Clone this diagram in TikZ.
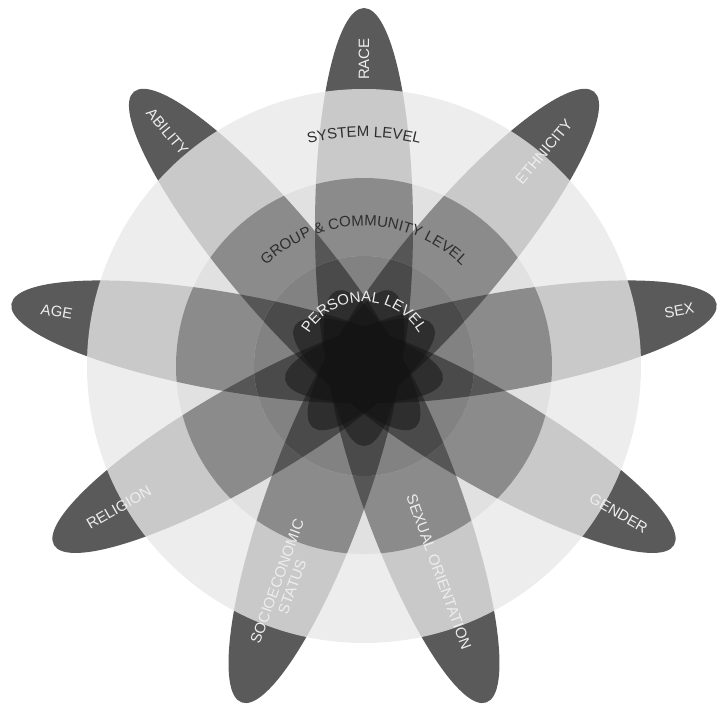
\documentclass[tikz,border=0pt]{standalone}
\usepackage{fontspec}
\setmainfont{Liberation Sans}
\usetikzlibrary{decorations.text}
\definecolor{tipgray}{HTML}{5A5A5A}
\definecolor{sysgray}{HTML}{EDEDED}
\definecolor{grpgray}{HTML}{E1E1E1}
\definecolor{pergray}{HTML}{F2F2F2}
\definecolor{textdark}{HTML}{2E2E2E}
\definecolor{textlight}{HTML}{EEEEEE}
% all nine petals, one fill style
\newcommand{\petalset}[1]{%
  \foreach \ang in {90,50,10,-30,-70,-110,-150,170,130}
    \fill[#1,rotate=\ang] (139,0) ellipse [x radius=219pt, y radius=49pt];}

\begin{document}
\begin{tikzpicture}[
  x=1pt,y=1pt,
  tiplabel/.style={text=textlight,font=\fontsize{15}{16}\selectfont,inner sep=0pt},
  levellabel/.style={decorate,decoration={text along path,text align=center,
    text={|\fontsize{15}{16}\selectfont\color{#1}|}}}
]
  \useasboundingbox (-364,-347) rectangle (361,366);
  \coordinate (c) at (0,0);
  % petal tips
  \petalset{tipgray}
  % system level
  \fill[sysgray] (c) circle[radius=277pt];
  \begin{scope}
    \clip (c) circle[radius=277pt];
    \petalset{black,fill opacity=.15}
  \end{scope}
  % group & community level
  \fill[grpgray] (c) circle[radius=188pt];
  \begin{scope}
    \clip (c) circle[radius=188pt];
    \petalset{black,fill opacity=.38}
  \end{scope}
  % personal level
  \fill[pergray] (c) circle[radius=110pt];
  \begin{scope}
    \clip (c) circle[radius=110pt];
    \petalset{black,fill opacity=.5}
    \fill[white,fill opacity=.08] (c) circle[radius=110pt];
  \end{scope}

  % level labels
  \path[decorate,decoration={text along path,text align=center,
    text={|\fontsize{15}{16}\selectfont\color{textdark}|SYSTEM LEVEL}}]
    (165:229) arc[start angle=165,end angle=15,radius=229pt];
  \path[decorate,decoration={text along path,text align=center,
    text={|\fontsize{15}{16}\selectfont\color{textdark}|GROUP {\&} COMMUNITY LEVEL}}]
    (170:140) arc[start angle=170,end angle=10,radius=140pt];
  \path[decorate,decoration={text along path,text align=center,
    text={|\fontsize{15}{16}\selectfont\color{textlight}|PERSONAL LEVEL}}]
    (175:64) arc[start angle=175,end angle=5,radius=64pt];

  % petal labels
  \node[tiplabel,rotate=90] (race) at (90:307) {RACE};
  \node[tiplabel,rotate=50] (ethnicity) at (50:280) {ETHNICITY};
  \node[tiplabel,rotate=10] (sex) at (10:320) {SEX};
  \node[tiplabel,rotate=-30] (gender) at (-30:294) {GENDER};
  \node[tiplabel,rotate=-70] (sexor) at (-70:219) {SEXUAL ORIENTATION};
  \node[tiplabel,rotate=70,align=center] (socio) at (-110:232) {SOCIOECONOMIC\\STATUS};
  \node[tiplabel,rotate=30] (religion) at (-150:283) {RELIGION};
  \node[tiplabel,rotate=-10] (age) at (170:312) {AGE};
  \node[tiplabel,rotate=-50] (ability) at (130:306) {ABILITY};
\end{tikzpicture}
\end{document}
